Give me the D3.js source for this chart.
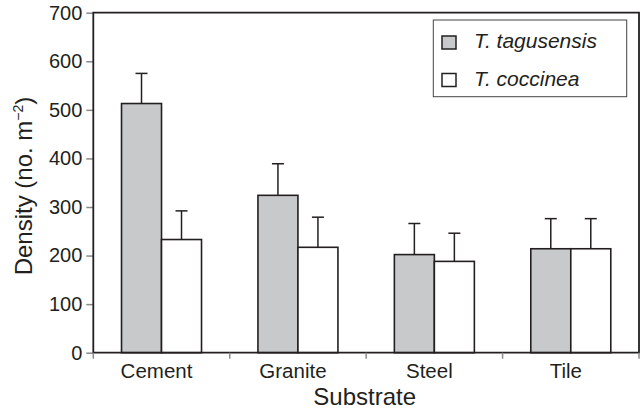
<!DOCTYPE html>
<meta charset='utf-8'>
<style>
body { margin: 0; background: #fff; }
text {
  font-family: 'Liberation Sans', Arial, sans-serif;
  fill: #231f20;
}
</style>
<svg id='chart' width='641' height='412'></svg>
<script src="https://d3js.org/d3.v7.min.js"></script>
<script>
// data
const substrates = ['Cement', 'Granite', 'Steel', 'Tile'];
const species = ['T. tagusensis', 'T. coccinea'];
const tagusensis = [513, 324, 202, 214];
const tagusensisSE = [62, 65, 64, 62];
const coccinea = [233, 217, 188, 214];
const coccineaSE = [59, 62, 58, 62];
const yTicks = [0, 100, 200, 300, 400, 500, 600, 700];

const colors = ['#c8c9cb', '#ffffff'];
const ink = '#231f20';

const margin = {top: 12.7, right: 2, bottom: 59.3, left: 93.3};
const width = 641, height = 412;

const svg = d3.select('#chart');

const x = d3.scaleBand()
  .domain(substrates)
  .range([margin.left, width - margin.right]);

const bw = x.bandwidth();
const groupW = 80;
const x1 = d3.scaleBand()
  .domain(species)
  .range([(bw - groupW) / 2, (bw + groupW) / 2]);

const y = d3.scaleLinear()
  .domain([0, 700])
  .range([height - margin.bottom, margin.top]);

const rows = substrates.map((s, i) => ({
  substrate: s,
  vals: [
    {sp: species[0], v: tagusensis[i], se: tagusensisSE[i], c: colors[0]},
    {sp: species[1], v: coccinea[i], se: coccineaSE[i], c: colors[1]}
  ]
}));

// y axis
const yAxis = svg.append('g')
  .attr('transform', `translate(${margin.left},0)`)
  .call(d3.axisLeft(y).tickValues(yTicks).tickSize(7).tickPadding(4));
yAxis.select('.domain').remove();
yAxis.selectAll('line').attr('stroke', '#8a8a8a').attr('stroke-width', 1.5);
yAxis.selectAll('text')
  .attr('font-size', 20)
  .attr('fill', ink)
  .attr('font-family', "'Liberation Sans', Arial, sans-serif");

// error bars (drawn before bars so stems start at bar top)
const groups = svg.append('g').selectAll('g')
  .data(rows)
  .join('g')
  .attr('transform', d => `translate(${x(d.substrate)},0)`);

groups.selectAll('g.err')
  .data(d => d.vals)
  .join('g')
  .attr('class', 'err')
  .each(function(d) {
    const g = d3.select(this);
    const cx = x1(d.sp) + x1.bandwidth() / 2;
    g.append('line')
      .attr('x1', cx).attr('x2', cx)
      .attr('y1', y(d.v)).attr('y2', y(d.v + d.se))
      .attr('stroke', ink).attr('stroke-width', 1.5);
    g.append('line')
      .attr('x1', cx - 6).attr('x2', cx + 6)
      .attr('y1', y(d.v + d.se)).attr('y2', y(d.v + d.se))
      .attr('stroke', ink).attr('stroke-width', 1.5);
  });

groups.selectAll('rect')
  .data(d => d.vals)
  .join('rect')
  .attr('x', d => x1(d.sp))
  .attr('y', d => y(d.v))
  .attr('width', x1.bandwidth())
  .attr('height', d => y(0) - y(d.v))
  .attr('fill', d => d.c)
  .attr('stroke', ink)
  .attr('stroke-width', 1.6);

// frame (left, top, right, bottom)
const [x0, xEnd] = x.range();
svg.append('path')
  .attr('d', `M${x0},${y(0)}V${y(700)}H${xEnd}V${y(0)}Z`)
  .attr('fill', 'none')
  .attr('stroke', ink)
  .attr('stroke-width', 1.8);

// x ticks at band edges
const edges = substrates.map(s => x(s)).concat([xEnd]);
svg.append('g').selectAll('line')
  .data(edges)
  .join('line')
  .attr('x1', d => d).attr('x2', d => d)
  .attr('y1', y(0)).attr('y2', y(0) + 6)
  .attr('stroke', '#8a8a8a').attr('stroke-width', 1.5);

svg.append('g').selectAll('text')
  .data(substrates)
  .join('text')
  .attr('x', d => x(d) + bw / 2 - 5)
  .attr('y', 377.5)
  .attr('text-anchor', 'middle')
  .attr('font-size', 20.5)
  .text(d => d);

// axis titles
svg.append('text')
  .attr('x', (x0 + xEnd) / 2 - 1.5)
  .attr('y', 405)
  .attr('text-anchor', 'middle')
  .attr('font-size', 24)
  .text('Substrate');

const yl = svg.append('text')
  .attr('transform', 'translate(32,186) rotate(-90)')
  .attr('text-anchor', 'middle')
  .attr('font-size', 24);
yl.append('tspan').text('Density (no. m');
yl.append('tspan').attr('font-size', 14).attr('dy', -9).text('\u22122');
yl.append('tspan').attr('dy', 9).text(')');

// legend
const lg = svg.append('g');
lg.append('rect')
  .attr('x', 433.3).attr('y', 20)
  .attr('width', 193.4).attr('height', 76.7)
  .attr('fill', '#fff')
  .attr('stroke', '#444').attr('stroke-width', 1);

const li = lg.selectAll('g.item')
  .data(species)
  .join('g')
  .attr('class', 'item')
  .attr('transform', (d, i) => `translate(0,${i * 37.5})`);

li.append('rect')
  .attr('x', 442).attr('y', 36)
  .attr('width', 14).attr('height', 13)
  .attr('fill', (d, i) => colors[i])
  .attr('stroke', ink).attr('stroke-width', 1.5);

li.append('text')
  .attr('x', 474).attr('y', 48)
  .attr('font-size', 21)
  .attr('font-style', 'italic')
  .text(d => d);
</script>
